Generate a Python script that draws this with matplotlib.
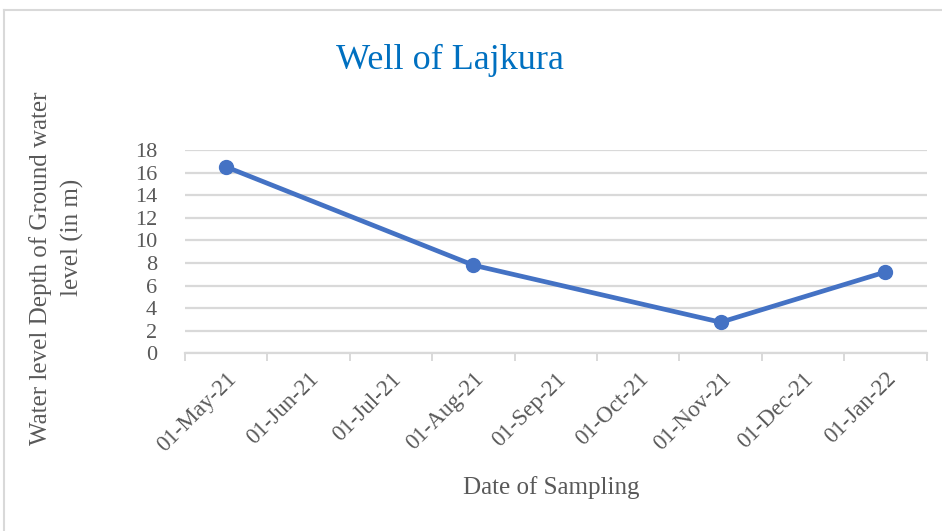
import matplotlib.pyplot as plt
from matplotlib.lines import Line2D

# monthly categories on the date axis
months = ['01-May-21', '01-Jun-21', '01-Jul-21', '01-Aug-21', '01-Sep-21',
          '01-Oct-21', '01-Nov-21', '01-Dec-21', '01-Jan-22']
sample_dates = ['01-May-21', '01-Aug-21', '01-Nov-21', '01-Jan-22']
depth = [16.5, 7.8, 2.75, 7.2]
yticks = [0, 2, 4, 6, 8, 10, 12, 14, 16, 18]

plt.rcParams['font.family'] = ['Liberation Serif', 'DejaVu Serif']
grey = '#595959'
grid = '#D9D9D9'
blue = '#4472C4'

fig = plt.figure(figsize=(9.42, 5.31), dpi=100)
ax = fig.add_axes([185 / 942, 1 - 353.3 / 531, 741.7 / 942, 203.3 / 531])

# points sit in the middle of their month slot
xs = [months.index(d) + 0.5 for d in sample_dates]
ax.plot(xs, depth, color=blue, lw=3.4, marker='o', ms=10, solid_capstyle='round')

ax.set_xlim(0, len(months))
ax.set_ylim(0, 18)
ax.set_yticks(yticks)
ax.set_yticklabels([str(v) for v in yticks], fontsize=16, color=grey)
ax.tick_params(axis='y', length=0, pad=20)
ax.yaxis.grid(True, color=grid, lw=1.6)
ax.set_axisbelow(True)

# tick marks at month boundaries, labels in the middle of each month
ax.set_xticks(range(len(months) + 1))
ax.set_xticklabels([])
ax.set_xticks([i + 0.5 for i in range(len(months))], minor=True)
ax.set_xticklabels(months, minor=True, rotation=45, ha='right', va='top',
                   rotation_mode='anchor', fontsize=16.5, color=grey)
ax.tick_params(axis='x', which='major', length=6, color=grid, width=1.4)
ax.tick_params(axis='x', which='minor', length=0, pad=11)

for s in ['top', 'right', 'left']:
    ax.spines[s].set_visible(False)
ax.spines['bottom'].set_color(grid)
ax.spines['bottom'].set_linewidth(1.6)

fig.text(450 / 942, 1 - 60 / 531, 'Well of Lajkura', fontsize=26,
         color='#0070C0', ha='center', va='center')
fig.text(551 / 942, 1 - 488 / 531, 'Date of Sampling', fontsize=18,
         color=grey, ha='center', va='center')
fig.text(41 / 942, 1 - 268 / 531, 'Water level Depth of Ground water',
         fontsize=18, color=grey, rotation=90, ha='center', va='center')
fig.text(72 / 942, 1 - 237 / 531, 'level (in m)',
         fontsize=18, color=grey, rotation=90, ha='center', va='center')

# chart area border
fig.add_artist(Line2D([4 / 942, 1], [1 - 10 / 531, 1 - 10 / 531],
                      transform=fig.transFigure, color=grid, lw=1.5))
fig.add_artist(Line2D([4 / 942, 4 / 942], [0, 1 - 10 / 531],
                      transform=fig.transFigure, color=grid, lw=1.5))

fig.savefig('out.png', dpi=100)
